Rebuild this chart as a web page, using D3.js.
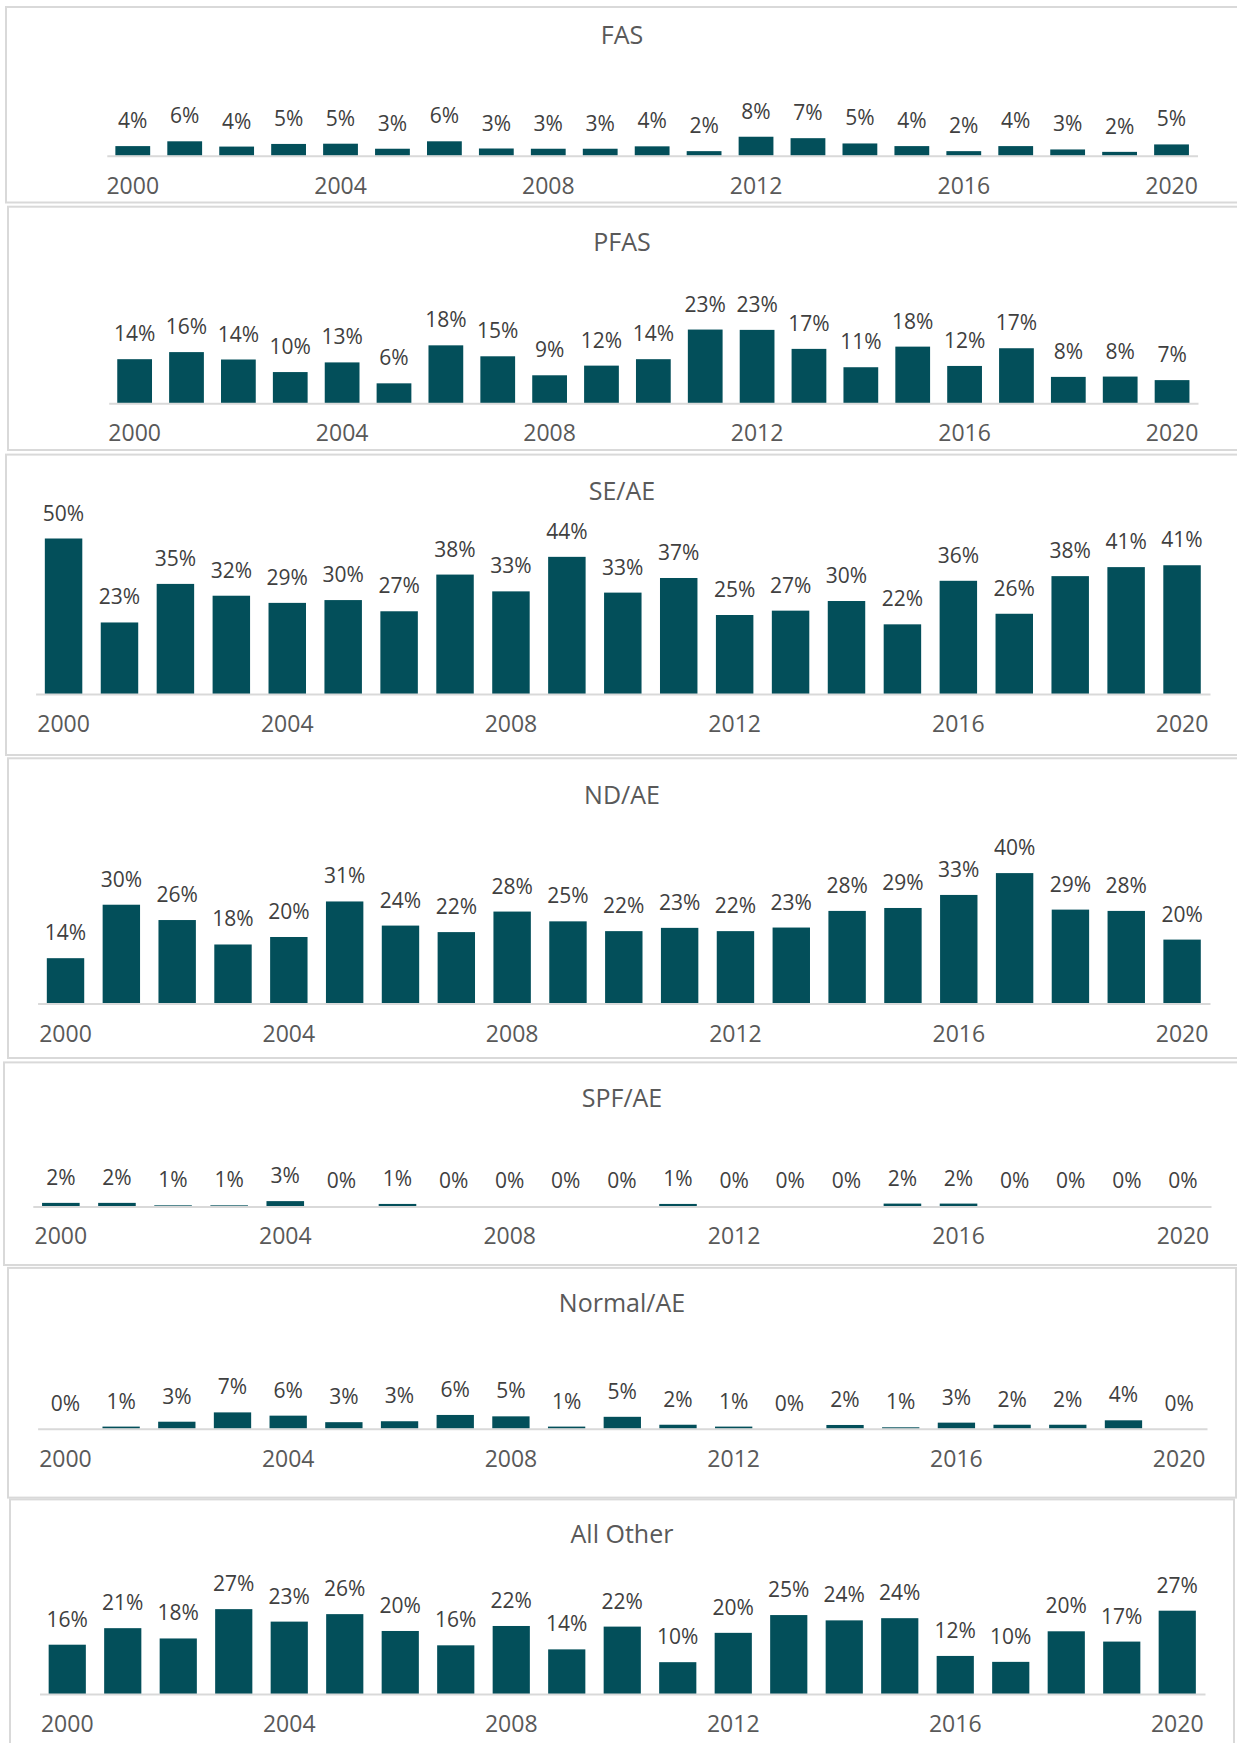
<!DOCTYPE html>
<html>
<head>
<meta charset="utf-8">
<script src="https://cdn.jsdelivr.net/npm/d3@7"></script>
<style>
  html, body { margin: 0; padding: 0; background: #ffffff; }
  svg { display: block; }
  text { font-family: "Open Sans", "Noto Sans", sans-serif; }
</style>
</head>
<body>
<div id="chart"></div>
<script>
// ---------------- data ----------------
const categories = ["2000","2001","2002","2003","2004","2005","2006","2007","2008","2009","2010",
                    "2011","2012","2013","2014","2015","2016","2017","2018","2019","2020"];
const tickLabels = ["2000","2004","2008","2012","2016","2020"];
const panelTitles = ["FAS","PFAS","SE/AE","ND/AE","SPF/AE","Normal/AE","All Other"];

const fas      = [0.040,0.060,0.038,0.049,0.050,0.029,0.060,0.030,0.029,0.029,0.039,0.019,0.079,0.073,0.051,0.040,0.019,0.040,0.026,0.016,0.047];
const pfas     = [0.137,0.159,0.136,0.097,0.127,0.062,0.180,0.146,0.087,0.117,0.137,0.229,0.228,0.169,0.112,0.176,0.116,0.171,0.082,0.083,0.072];
const seAe     = [0.500,0.230,0.354,0.316,0.293,0.302,0.266,0.384,0.330,0.441,0.326,0.373,0.254,0.268,0.299,0.224,0.364,0.258,0.379,0.408,0.414];
const ndAe     = [0.139,0.303,0.256,0.181,0.204,0.313,0.239,0.219,0.282,0.252,0.222,0.232,0.222,0.233,0.284,0.293,0.333,0.400,0.288,0.284,0.196];
const spfAe    = [0.020,0.020,0.006,0.006,0.030,0.000,0.014,0.000,0.000,0.000,0.000,0.014,0.000,0.000,0.000,0.016,0.016,0.000,0.000,0.000,0.000];
const normalAe = [0.000,0.009,0.030,0.070,0.056,0.028,0.032,0.059,0.053,0.009,0.051,0.017,0.009,0.000,0.016,0.006,0.026,0.017,0.017,0.036,0.000];
const allOther = [0.158,0.211,0.178,0.272,0.232,0.256,0.202,0.156,0.218,0.143,0.216,0.102,0.196,0.253,0.236,0.243,0.122,0.103,0.201,0.168,0.267];

const seriesList = [fas, pfas, seAe, ndAe, spfAe, normalAe, allOther];

// ---------------- layout (positions / sizes only) ----------------
const W = 1237, H = 1743;
const layout = [
  {box:[6, 7, 1250, 202.5],      titleY:44,   x0:106.8, x1:1197.5, base:155.7,  k:240},
  {box:[8, 206.7, 1250, 450],    titleY:251,  x0:108.7, x1:1198,   base:403.3,  k:322},
  {box:[6, 454.6, 1250, 755],    titleY:500,  x0:35.6,  x1:1210,   base:694,    k:311},
  {box:[8, 758.3, 1250, 1058],   titleY:804,  x0:37.6,  x1:1210,   base:1003.5, k:326},
  {box:[4, 1062.4, 1250, 1265],  titleY:1107, x0:32.8,  x1:1211,   base:1206.4, k:176},
  {box:[8, 1267.9, 1236, 1497.6],titleY:1312, x0:37.6,  x1:1207,   base:1428.7, k:233},
  {box:[10, 1499.4, 1234, 1760], titleY:1543, x0:39.5,  x1:1205,   base:1694,   k:312}
];

const barColor = "#034f5a";
const gridGray = "#d9d9d9";
const fmt = d3.format(".0%");

const svg = d3.select("#chart").append("svg")
  .attr("width", W).attr("height", H);

seriesList.forEach((vals, i) => {
  const L = layout[i];
  const [bx0, by0, bx1, by1] = L.box;
  const g = svg.append("g");

  // panel frame
  g.append("rect")
    .attr("x", bx0).attr("y", by0)
    .attr("width", bx1 - bx0).attr("height", by1 - by0)
    .attr("fill", "none").attr("stroke", gridGray).attr("stroke-width", 2);

  // title
  g.append("text")
    .attr("x", 622).attr("y", L.titleY)
    .attr("text-anchor", "middle")
    .attr("font-size", 25).attr("fill", "#595959")
    .text(panelTitles[i]);

  const x = d3.scaleBand().domain(categories).range([L.x0, L.x1])
    .paddingInner(0.33).paddingOuter(0.165);
  const y = d3.scaleLinear().domain([0, 1]).range([L.base, L.base - L.k]);

  const data = categories.map((c, j) => ({c, v: vals[j]}));

  // bars
  g.selectAll("rect.bar").data(data).enter().append("rect")
    .attr("class", "bar")
    .attr("x", d => x(d.c))
    .attr("width", x.bandwidth())
    .attr("y", d => y(d.v))
    .attr("height", d => y(0) - y(d.v))
    .attr("fill", barColor);

  // axis
  const axis = d3.axisBottom(x).tickValues(tickLabels).tickSize(0).tickPadding(0);
  const ax = g.append("g").attr("transform", `translate(0,${L.base})`).call(axis);
  ax.select(".domain").attr("stroke", gridGray).attr("stroke-width", 2);
  ax.selectAll("text")
    .attr("dy", null).attr("y", 38)
    .attr("font-size", 23).attr("fill", "#595959")
    .attr("font-family", "'Open Sans', 'Noto Sans', sans-serif");

  // value labels
  g.selectAll("text.val").data(data).enter().append("text")
    .attr("class", "val")
    .attr("x", d => x(d.c) + x.bandwidth() / 2)
    .attr("y", d => y(d.v) - 18)
    .attr("text-anchor", "middle")
    .attr("font-size", 21).attr("fill", "#404040")
    .text(d => fmt(d.v));
});
</script>
</body>
</html>
